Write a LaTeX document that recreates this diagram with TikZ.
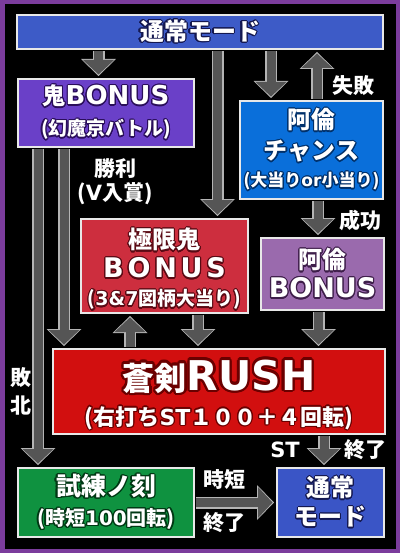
\documentclass[tikz,border=0pt]{standalone}
\usepackage{fontspec}
\setmainfont{Noto Sans CJK JP}
\newfontfamily\lat{DejaVu Sans}
\newfontfamily\latsp{DejaVu Sans}[LetterSpace=14]
\usepackage{contour}
\contourlength{1.2pt}
\usepackage{tikz}
\usetikzlibrary{arrows.meta}

\definecolor{frame}{HTML}{7B3C9C}
\definecolor{topblue}{HTML}{3D5BC7}
\definecolor{onipurple}{HTML}{6A40C8}
\definecolor{chanceblue}{HTML}{0A6FDA}
\definecolor{kyokured}{HTML}{CD2E3E}
\definecolor{arinpurple}{HTML}{9A6AAD}
\definecolor{rushred}{HTML}{D20F0F}
\definecolor{shirengreen}{HTML}{0F9240}
\definecolor{normblue}{HTML}{3A55C6}
\definecolor{boxline}{HTML}{E8E8E8}
\definecolor{arrowfill}{HTML}{555555}
\definecolor{arrowedge}{HTML}{B4B4B4}
\definecolor{bluedark}{HTML}{141850}
\definecolor{onidark}{HTML}{2A0E5A}
\definecolor{chancedark}{HTML}{00306A}
\definecolor{kyokudark}{HTML}{5A0A14}
\definecolor{arindark}{HTML}{3E1E4A}
\definecolor{rushdark}{HTML}{6A0000}
\definecolor{shirendark}{HTML}{003814}

\newcommand{\fs}[2]{\fontsize{#1}{#2}\selectfont}

\begin{document}
\begin{tikzpicture}[
  x=1pt, y=-1pt,
  fat/.style={draw=arrowfill, line width=9pt, shorten <=1pt, shorten >=3.5pt,
    -{Triangle[length=14.5pt, width=31pt, line width=0pt]},
    preaction={draw=arrowedge, line width=12pt, shorten <=1pt, shorten >=2pt,
      -{Triangle[length=17pt, width=35pt, line width=0pt]}}},
  box/.style={draw=boxline, line width=2pt, text=white, align=center, inner sep=0pt},
  tag/.style={text=white, align=center, inner sep=0pt, font=\bfseries\fs{21}{24}}
]

  % frame and background
  \useasboundingbox (0,0) rectangle (400,553);
  \fill[frame] (0,0) rectangle (400,553);
  \fill[black] (4.5,4.5) rectangle (395.5,549);

  % boxes
  \node (top) [box, fill=topblue, minimum width=366pt, minimum height=34pt, font=\bfseries\fs{24}{29}] at (200,32)
    {\contour{bluedark}{通常モード}};
  \node (oni) [box, fill=onipurple, minimum width=176pt, minimum height=68pt, font=\bfseries\fs{23}{31}] at (106,113)
    {\contour{onidark}{鬼{\lat\fs{26}{31}BONUS}}\\
     \contour{onidark}{\fs{19}{31}(幻魔京バトル)}};
  \node (chance) [box, fill=chanceblue, minimum width=143pt, minimum height=98pt, font=\bfseries\fs{24}{31}] at (311.5,150)
    {\contour{chancedark}{阿倫}\\
     \contour{chancedark}{チャンス}\\[-4pt]
     \contour{chancedark}{\fs{17}{27}(大当り{\lat or}小当り)}};
  \node (kyoku) [box, fill=kyokured, minimum width=167pt, minimum height=94pt, font=\bfseries\fs{24}{29}] at (164.5,266)
    {\rule{0pt}{28pt}\contour{kyokudark}{極限鬼}\\
     \contour{kyokudark}{\latsp\fs{27}{29}BONUS}\\[-1pt]
     \contour{kyokudark}{\fs{19}{28}({\lat 3\&7}図柄大当り)}};
  \node (arin) [box, fill=arinpurple, minimum width=123pt, minimum height=72pt, font=\bfseries\fs{24}{29}] at (322.5,274)
    {\contour{arindark}{阿倫}\\
     \contour{arindark}{\lat\fs{27}{29}BONUS}};
  \node (rush) [box, fill=rushred, minimum width=332pt, minimum height=85pt, font=\bfseries\fs{32}{35}] at (219,391.5)
    {\rule{0pt}{38pt}\contourlength{2.4pt}\contour{rushdark}{蒼剣{\lat\fs{41}{35}RUSH}}\\
     \contour{rushdark}{\fs{22}{35}(右打ち{\lat ST}１００＋４回転)}};
  \node (shiren) [box, fill=shirengreen, minimum width=176pt, minimum height=69pt, font=\bfseries\fs{25}{30}] at (106,502.5)
    {\contour{shirendark}{試練ノ刻}\\
     \contour{shirendark}{\fs{20}{30}(時短{\lat 100}回転)}};
  \node (normal) [box, fill=normblue, minimum width=107pt, minimum height=69pt, font=\bfseries\fs{24}{29}] at (330.5,502.5)
    {\contour{bluedark}{通常}\\
     \contour{bluedark}{モード}};

  % labels
  \node (fail) [tag] at (353.5,86) {失敗};
  \node (success) [tag] at (360,220) {成功};
  \node (victory) [tag] at (115,182) {勝利\\({\lat V}入賞)};
  \node (defeat) [tag, font=\bfseries\fs{21}{28}] at (21,391) {敗\\北};
  \node (stlabel) [tag] at (285,450) {{\lat ST}};
  \node (stend) [tag] at (365,450) {終了};
  \node (jitan) [tag] at (224.5,480) {時短};
  \node (jitanend) [tag] at (224,523) {終了};

  % connections
  \draw[fat] (98.5,0 |- top.south) -- (98.5,0 |- oni.north);
  \draw[fat] (217.5,0 |- top.south) -- (217.5,0 |- kyoku.north);
  \draw[fat] (271,0 |- top.south) -- (271,0 |- chance.north);
  \draw[fat] (317,0 |- chance.north) -- (317,0 |- top.south);
  \draw[fat] (318,0 |- chance.south) -- (318,0 |- arin.north);
  \draw[fat] (64,0 |- oni.south) -- (64,0 |- rush.north);
  \draw[fat] (38,0 |- oni.south) -- (38,0 |- shiren.north);
  \draw[fat] (130,0 |- rush.north) -- (130,0 |- kyoku.south);
  \draw[fat] (198,0 |- kyoku.south) -- (198,0 |- rush.north);
  \draw[fat] (318.5,0 |- arin.south) -- (318.5,0 |- rush.north);
  \draw[fat] (324,0 |- rush.south) -- (324,0 |- normal.north);
  \draw[fat] (shiren.east) -- (normal.west);

\end{tikzpicture}
\end{document}
